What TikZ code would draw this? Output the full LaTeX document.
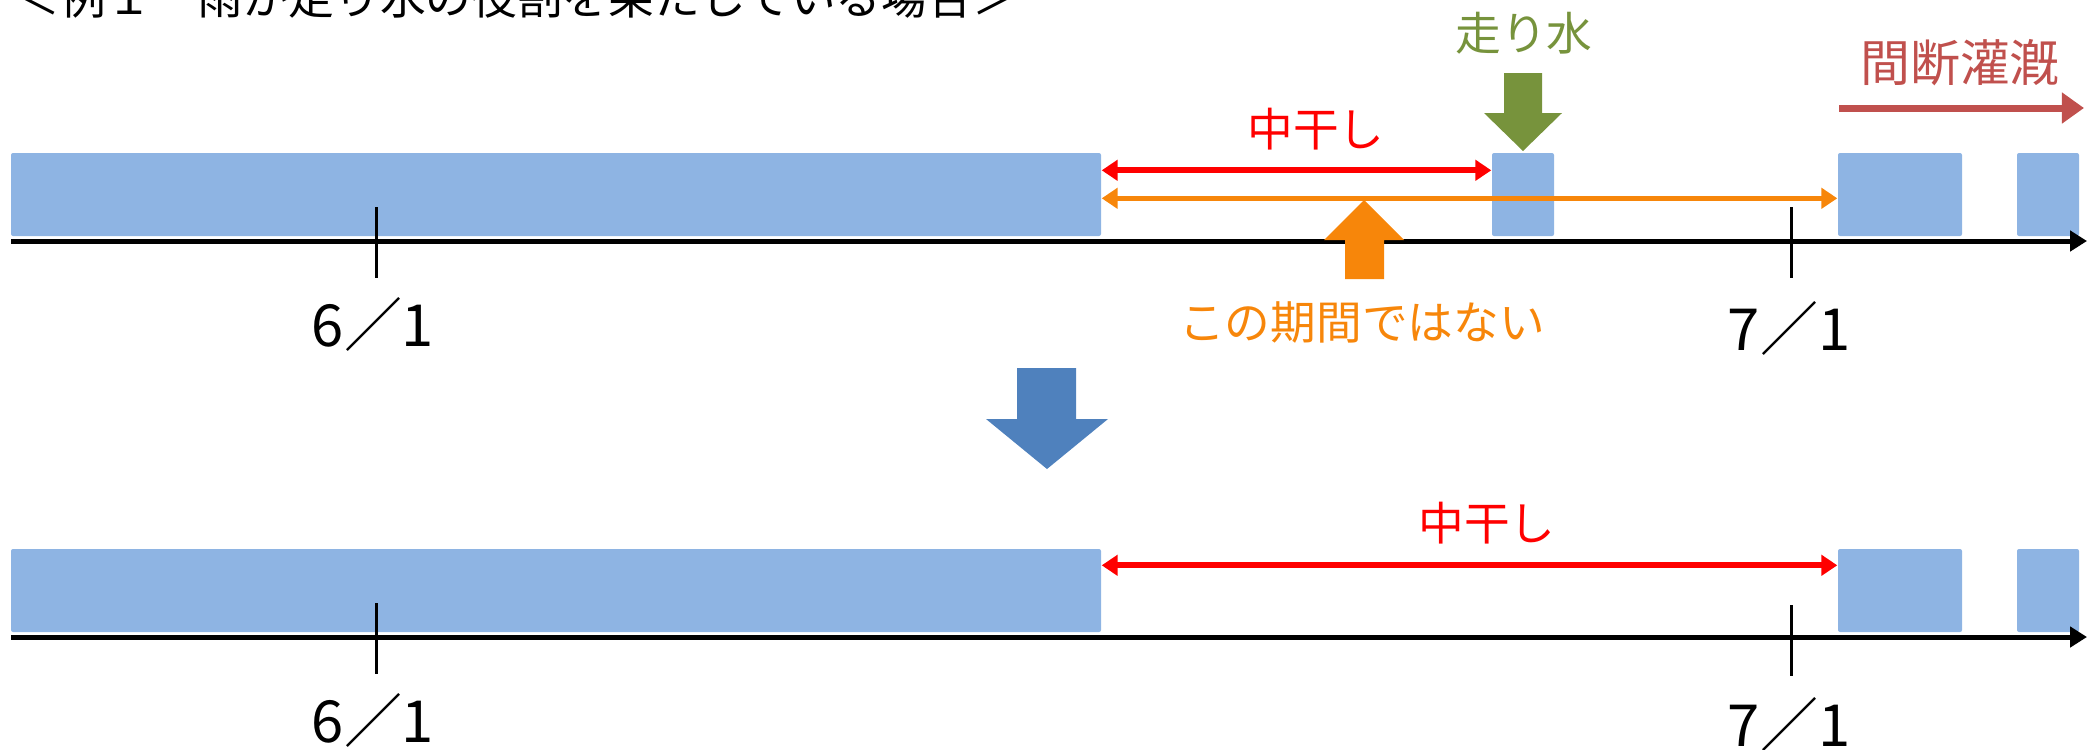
\documentclass[tikz,border=0pt]{standalone}
\usepackage{fontspec}
\setmainfont{Noto Sans CJK JP}
\usetikzlibrary{arrows.meta,positioning}
\newlength\px
\setlength\px{0.1mm}
\definecolor{barblue}{HTML}{8EB4E3}
\definecolor{spanred}{HTML}{FF0000}
\definecolor{spanorange}{HTML}{F7860A}
\definecolor{watergreen}{HTML}{77933C}
\definecolor{irrired}{HTML}{C0504D}
\definecolor{stepblue}{HTML}{4F81BD}
\begin{document}
\begin{tikzpicture}[x=0.1mm, y=-0.1mm,
  bar/.style={fill=barblue, rounded corners=2\px, inner sep=0pt, minimum height=83\px},
  axis/.style={line width=5\px, -{Triangle[length=4.8pt,width=5.7pt]}},
  datetick/.style={line width=3\px},
  datelbl/.style={font=\fontsize{16.5}{18}\selectfont, inner sep=0pt},
  lbl/.style={font=\fontsize{13}{15}\selectfont, inner sep=0pt},
  span/.style={line width=#1, {Triangle[length=4.5pt,width=5.7pt]}-{Triangle[length=4.5pt,width=5.7pt]}},
]
\useasboundingbox (0,0) rectangle (2093,749);
\clip (0,0) rectangle (2093,749);

% title (cut off at the top)
\node[font=\fontsize{13}{15}\selectfont, inner sep=0pt, anchor=base west] (title) at (14,14)
  {＜例１　雨が走り水の役割を果たしている場合＞};

% before
\node[bar, minimum width=1090\px] (bar1) at (556,194.5) {};
\node[bar, minimum width=62\px] (blk2) at (1523,194.5) {};
\node[bar, minimum width=124\px] (blk3) at (1900,194.5) {};
\node[bar, minimum width=62\px] (blk4) at (2048,194.5) {};
\coordinate (ax0) at (11,241);
\coordinate (ax1) at (2087,241);
\draw[axis] (ax0) -- (ax1);
\draw[datetick] (376,207) -- (376,278);
\draw[datetick] (1791,207) -- (1791,278);
\node[datelbl] (d61) at (373,324) {6／1};
\node[datelbl] (d71) at (1789,328) {7／1};

\draw[span=6\px, spanred] ([yshift=-18\px]bar1.north east) -- ([yshift=-18\px]blk2.north west);
\node[lbl, text=spanred] (naka) at (1316,129) {中干し};
\draw[span=5\px, spanorange] ([yshift=-46\px]bar1.north east) -- ([yshift=-46\px]blk3.north west);
\fill[spanorange] (1364,200) -- (1404,240) -- (1384,240) -- (1384,279) -- (1345,279) -- (1345,240) -- (1324,240) -- cycle;
\node[lbl, text=spanorange] (notthis) at (1362,322) {この期間ではない};

\fill[watergreen] (1504,73) -- (1542,73) -- (1542,113) -- (1562,113) -- (1523,151) -- (1484,113) -- (1504,113) -- cycle;
\node[lbl, text=watergreen] (hashiri) at (1524,33) {走り水};

\node[font=\fontsize{14.2}{16}\selectfont, inner sep=0pt, text=irrired] (kandan) at (1960,63) {間断灌漑};
\coordinate (ir0) at (1839,108);
\coordinate (ir1) at (2084,108);
\draw[line width=7\px, irrired, -{Triangle[length=6.3pt,width=8.5pt]}] (ir0) -- (ir1);

% step arrow
\fill[stepblue] (1017,368) -- (1076,368) -- (1076,419) -- (1108,419) -- (1047,469) -- (986,419) -- (1017,419) -- cycle;

% after
\begin{scope}[shift={(0,396)}]
\node[bar, minimum width=1090\px] (bar1b) at (556,194.5) {};
\node[bar, minimum width=124\px] (blk3b) at (1900,194.5) {};
\node[bar, minimum width=62\px] (blk4b) at (2048,194.5) {};
\coordinate (bx0) at (11,241);
\coordinate (bx1) at (2087,241);
\draw[axis] (bx0) -- (bx1);
\draw[datetick] (376,207) -- (376,278);
\draw[datetick] (1791,209) -- (1791,280);
\node[datelbl] (d61b) at (373,324) {6／1};
\node[datelbl] (d71b) at (1789,328) {7／1};
\draw[span=6\px, spanred] ([yshift=-17\px]bar1b.north east) -- ([yshift=-17\px]blk3b.north west);
\node[lbl, text=spanred] (nakab) at (1487,127) {中干し};
\end{scope}
\end{tikzpicture}
\end{document}
